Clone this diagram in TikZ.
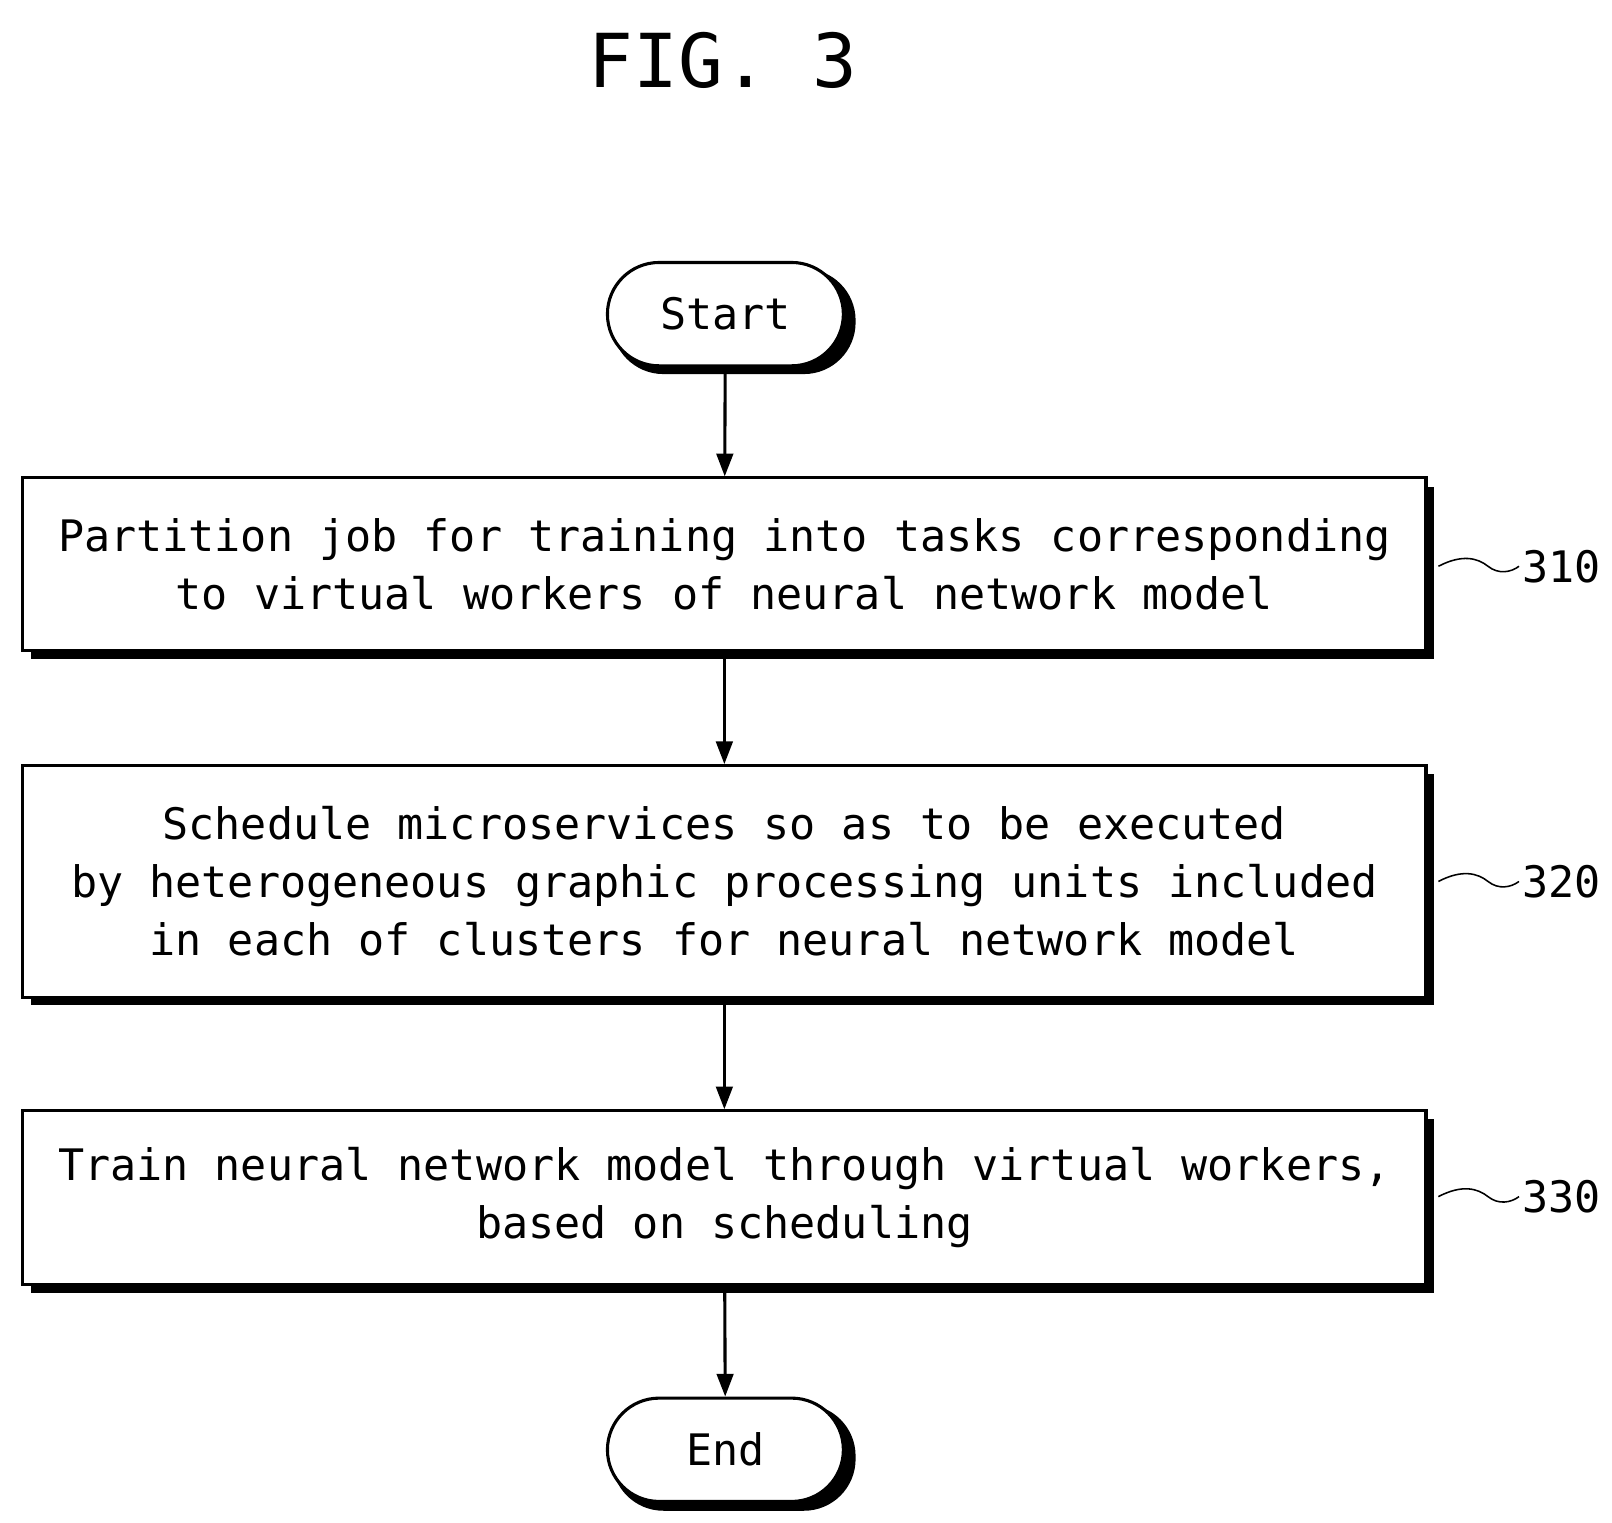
\documentclass[tikz,border=0pt]{standalone}
\usepackage{fontspec}
\setmainfont{DejaVu Sans Mono}
\usetikzlibrary{positioning,shapes,arrows.meta}
\tikzset{
  procbox/.style={draw,line width=3pt,fill=white,minimum width=1358pt,align=center,
    font=\fontsize{42}{56}\selectfont,inner sep=0pt},
  term/.style={draw,line width=3pt,fill=white,rounded rectangle,minimum width=235pt,
    minimum height=100pt,font=\fontsize{42}{50}\selectfont},
  shade/.style={fill=black},
  flow/.style={line width=3pt,-{Triangle[length=22pt,width=16pt]}},
  tag/.style={font=\fontsize{42}{50}\selectfont},
}
\begin{document}
\begin{tikzpicture}[x=1pt,y=-1pt]
\useasboundingbox (0,0) rectangle (1560,1473);
\node[font=\fontsize{72}{80}\selectfont] (title) at (700,58) {FIG. 3};

% shadows
\fill[shade,rounded corners=50pt] (592,260) rectangle (828,362);
\fill[shade] (30,471) rectangle (1388,638);
\fill[shade] (30,749) rectangle (1388,973);
\fill[shade] (30,1083) rectangle (1388,1251);
\fill[shade,rounded corners=50pt] (592,1359) rectangle (828,1462);

\node[term] (start) at (702,304) {Start};
\node[procbox,minimum height=167pt] (s310) at (701,546)
  {Partition job for training into tasks corresponding\\to virtual workers of neural network model};
\node[procbox,minimum height=224pt] (s320) at (701,853)
  {Schedule microservices so as to be executed\\by heterogeneous graphic processing units included\\in each of clusters for neural network model};
\node[procbox,minimum height=168pt] (s330) at (701,1159)
  {Train neural network model through virtual workers,\\based on scheduling};
\node[term] (end) at (702,1403) {End};

\draw[flow] (start) -- (s310);
\draw[flow] (s310) -- (s320);
\draw[flow] (s320) -- (s330);
\draw[flow] (s330) -- (end);

% reference numerals
\foreach \s/\y in {310/548,320/853,330/1158}{
  \node[tag,anchor=west] (n\s) at (1470,\y) {\s};
  \coordinate (c\s) at (1392,\y);
  \draw[line width=1.5pt] (c\s) .. controls (1415,\y-12) and (1430,\y-8) .. (1440,\y)
    .. controls (1450,\y+8) and (1462,\y+6) .. (n\s.west);
}
\end{tikzpicture}
\end{document}
